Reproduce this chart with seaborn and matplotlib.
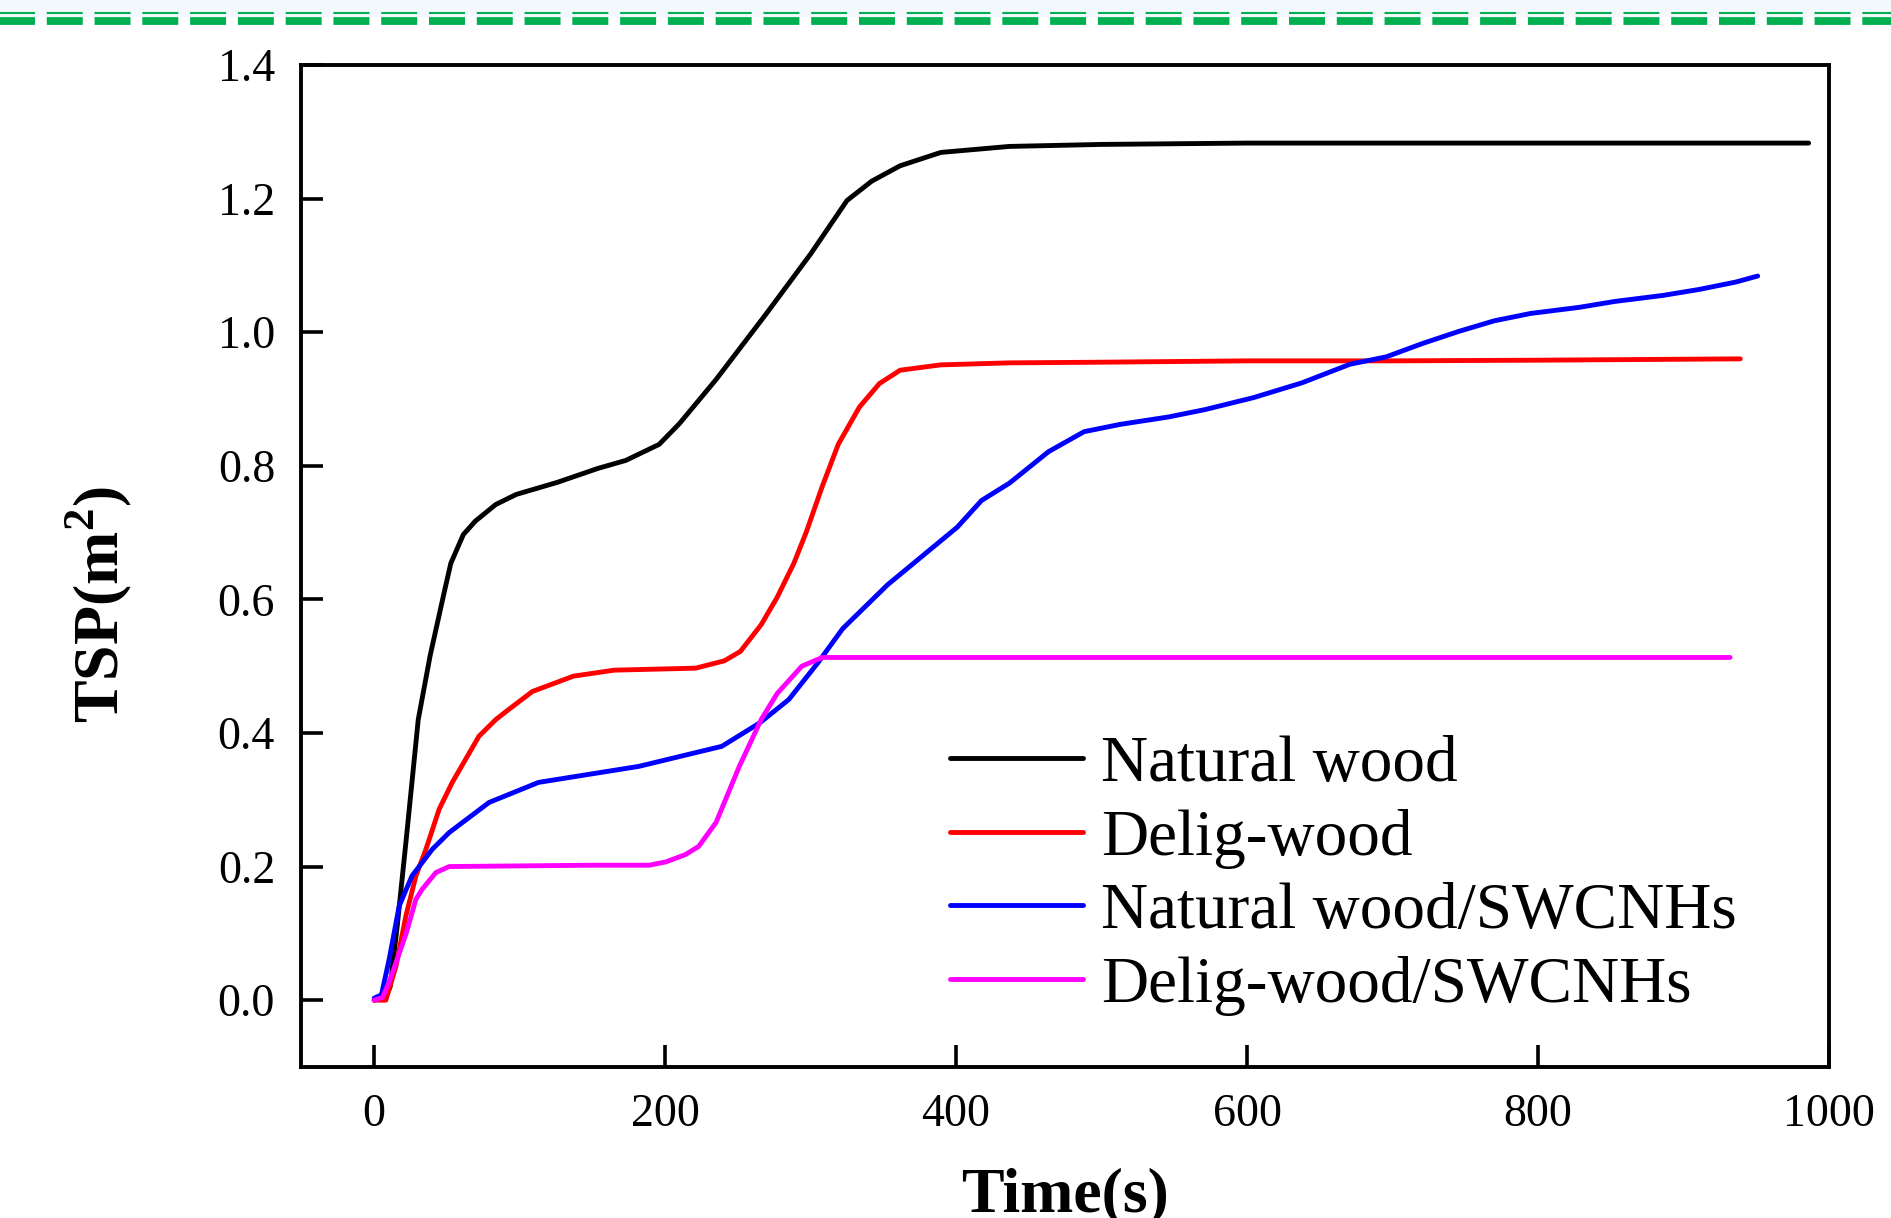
import numpy as np
import pandas as pd
import matplotlib
matplotlib.use("Agg")
import matplotlib.pyplot as plt
from matplotlib.lines import Line2D
from matplotlib.patches import Rectangle
import seaborn as sns

# ---------------- data ----------------
labels = ["Natural wood", "Delig-wood", "Natural wood/SWCNHs", "Delig-wood/SWCNHs"]
colors = ["#000000", "#FF0000", "#0000FF", "#FF00FF"]

t_natural = [0, 8, 11, 15.8, 22, 30.3, 38.5, 48.5, 52.7, 61.3, 69.5, 83.6, 97.6, 125.7,
             153.8, 173, 195.9, 209.8, 235, 269, 300, 325, 342, 361.5, 389.5, 436.7,
             500, 600, 700, 800, 900, 986]
tsp_natural = [0, 0.005, 0.02, 0.11, 0.24, 0.42, 0.516, 0.614, 0.654, 0.697, 0.717, 0.742,
               0.757, 0.775, 0.796, 0.808, 0.832, 0.863, 0.929, 1.026, 1.117, 1.197, 1.226,
               1.249, 1.269, 1.278, 1.281, 1.283, 1.283, 1.283, 1.283, 1.283]

t_delig = [0, 8, 15, 21.8, 28.7, 35.6, 44.7, 53.7, 72, 83.6, 90.6, 108.7, 136.9, 165, 221,
           240.7, 251.7, 266, 277, 288.5, 296.9, 308, 319, 333.6, 347.3, 361.5, 389.4,
           436.7, 500, 600, 700, 800, 939]
tsp_delig = [0, 0.0, 0.051, 0.126, 0.186, 0.226, 0.286, 0.326, 0.395, 0.42, 0.432, 0.462,
             0.485, 0.494, 0.497, 0.508, 0.522, 0.562, 0.603, 0.654, 0.700, 0.769, 0.832,
             0.888, 0.923, 0.943, 0.951, 0.954, 0.955, 0.957, 0.957, 0.958, 0.960]

t_nat_swcnh = [0, 5, 10.3, 17.2, 26, 40, 51.6, 79, 113, 182, 239, 265, 285, 305, 322, 353,
               400.8, 417.5, 436.7, 463.5, 488, 513, 546, 571, 604.5, 637.6, 670.8, 695.7,
               720.6, 745.4, 770, 795, 828, 853, 886, 911, 936, 951]
tsp_nat_swcnh = [0.003, 0.008, 0.061, 0.141, 0.186, 0.226, 0.251, 0.296, 0.326, 0.35, 0.38,
                 0.415, 0.45, 0.505, 0.556, 0.622, 0.708, 0.748, 0.774, 0.821, 0.851, 0.862,
                 0.873, 0.884, 0.902, 0.924, 0.952, 0.963, 0.983, 1.001, 1.017, 1.028, 1.037,
                 1.046, 1.055, 1.064, 1.075, 1.084]

t_delig_swcnh = [0, 5.7, 10.3, 22, 28.7, 33, 42.4, 51.6, 100, 150, 189, 200.6, 214, 223,
                 235, 251, 266, 277, 294, 308, 400, 600, 800, 932]
tsp_delig_swcnh = [0, 0.004, 0.027, 0.10, 0.151, 0.166, 0.191, 0.20, 0.201, 0.202, 0.202,
                   0.207, 0.218, 0.23, 0.266, 0.35, 0.42, 0.459, 0.50, 0.513, 0.513, 0.513,
                   0.513, 0.513]

x_ticks = [0, 200, 400, 600, 800, 1000]
y_ticks = [0.0, 0.2, 0.4, 0.6, 0.8, 1.0, 1.2, 1.4]

series_t = [t_natural, t_delig, t_nat_swcnh, t_delig_swcnh]
series_y = [tsp_natural, tsp_delig, tsp_nat_swcnh, tsp_delig_swcnh]
frames = [pd.DataFrame({"Time": t, "TSP": y, "Sample": lab})
          for t, y, lab in zip(series_t, series_y, labels)]
df = pd.concat(frames, ignore_index=True)

# ---------------- style ----------------
sns.set_style("ticks")
plt.rcParams["font.family"] = ["Liberation Serif", "DejaVu Serif"]
plt.rcParams["mathtext.fontset"] = "custom"
plt.rcParams["mathtext.rm"] = "Liberation Serif"
plt.rcParams["mathtext.bf"] = "Liberation Serif:bold"
plt.rcParams["lines.scale_dashes"] = False
for key in ["text.color", "axes.labelcolor", "xtick.color", "ytick.color",
            "xtick.labelcolor", "ytick.labelcolor", "axes.edgecolor"]:
    plt.rcParams[key] = "black"

fig = plt.figure(figsize=(18.91, 12.18), dpi=100)
fig.patch.set_facecolor("white")

# decorative header band with green double dashed rule
fig.add_artist(Rectangle((0, 1 - 17 / 1218), 1, 17 / 1218, transform=fig.transFigure,
                         facecolor="#F3F8FD", edgecolor="none", zorder=0))
fig.add_artist(Line2D([-2.3 / 1891, 1], [1 - 12.5 / 1218] * 2, transform=fig.transFigure,
                      color="#00B050", lw=1.5, dashes=(25.9, 8.5), solid_capstyle="butt",
                      dash_capstyle="butt"))
fig.add_artist(Line2D([-2.3 / 1891, 1], [1 - 21 / 1218] * 2, transform=fig.transFigure,
                      color="#00B050", lw=5.6, dashes=(25.9, 8.5), solid_capstyle="butt",
                      dash_capstyle="butt"))

ax = fig.add_axes([0.1594, 0.124, 0.8078, 0.8227])

sns.lineplot(data=df, x="Time", y="TSP", hue="Sample", hue_order=labels,
             palette=dict(zip(labels, colors)), estimator=None, sort=False,
             linewidth=3.5, ax=ax, legend=False)

ax.set_xlim(-50, 1000)
ax.set_ylim(-0.1, 1.4)
ax.set_xticks(x_ticks)
ax.set_yticks(y_ticks)
ax.set_xticklabels([str(v) for v in x_ticks])
ax.set_yticklabels([f"{v:.1f}" for v in y_ticks])

for s in ax.spines.values():
    s.set_visible(True)
    s.set_linewidth(2.8)
    s.set_color("black")

ax.tick_params(axis="both", which="major", direction="in", length=16, width=2.6,
               labelsize=33, pad=19, colors="black", labelcolor="black",
               top=False, right=False)

ax.set_xlabel("Time(s)", fontsize=46, fontweight="bold", color="black")
ax.xaxis.set_label_coords(0.5, -0.1)
ax.xaxis.label.set_va("top")
ax.set_ylabel(r"TSP(m$^{\mathbf{2}}$)", fontsize=46, fontweight="bold", color="black")
ax.yaxis.set_label_coords(-0.133, 0.461)
ax.yaxis.label.set_va("center")

handles = [Line2D([0], [0], color=c, lw=3.5) for c in colors]
leg = ax.legend(handles, labels, loc="upper left", bbox_to_anchor=(0.4243, 0.331),
                frameon=False, fontsize=47, handlelength=2.05, handletextpad=0.27,
                labelspacing=0.21, borderpad=0, borderaxespad=0)
for txt in leg.get_texts():
    txt.set_color("black")

fig.savefig("out.png", dpi=100)
